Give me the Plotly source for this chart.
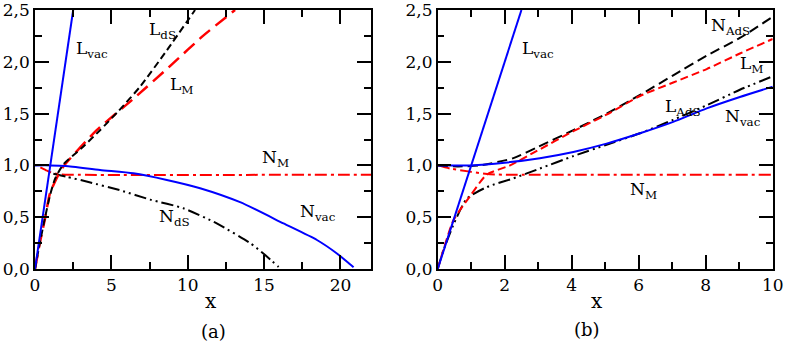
import plotly.graph_objects as go
from plotly.subplots import make_subplots

# ---- panel (a) ----
a_lvac_x = [0, 2.5]
a_lvac_y = [0, 2.5]

a_nvac_x = [0, 1.0, 2.0, 4.26, 6.44, 8.63, 10.81, 13.43, 16.27, 18.46, 19.77, 20.43, 20.86]
a_nvac_y = [1.0, 1.0, 0.995, 0.956, 0.924, 0.86, 0.78, 0.645, 0.44, 0.28, 0.15, 0.07, 0.016]

a_lds_x = [0, 0.3, 0.66, 1.0, 1.31, 1.86, 3.0, 4.26, 5.5, 6.88, 8.63, 10.48]
a_lds_y = [0, 0.24, 0.5, 0.72, 0.87, 1.01, 1.16, 1.34, 1.53, 1.76, 2.11, 2.5]

a_nds_x = [1.2, 2.08, 3.5, 5.57, 7.54, 9.72, 11.9, 14.09, 15.07, 15.95]
a_nds_y = [0.92, 0.89, 0.84, 0.76, 0.67, 0.586, 0.44, 0.25, 0.135, 0.02]

a_lm_x = [0, 0.3, 0.66, 0.98, 1.5, 1.86, 4.04, 6.5, 9.0, 11.0, 13.1]
a_lm_y = [0, 0.24, 0.49, 0.73, 0.9, 0.99, 1.34, 1.65, 1.98, 2.25, 2.5]

a_nm_x = [0.35, 0.7, 1.0, 1.3, 1.7, 2.2, 22]
a_nm_y = [0.98, 0.955, 0.935, 0.922, 0.914, 0.91, 0.91]

# ---- panel (b) ----
b_lvac_x = [0, 2.5]
b_lvac_y = [0, 2.5]

b_nvac_x = [0, 1.0, 2.0, 3.05, 4.05, 5.04, 6.04, 7.03, 8.03, 9.02, 10]
b_nvac_y = [1.0, 1.0, 1.026, 1.07, 1.13, 1.21, 1.31, 1.42, 1.55, 1.66, 1.76]

b_nads_x = [0, 0.6, 1.26, 2.26, 3.0, 4.05, 5.04, 6.04, 7.03, 8.03, 9.02, 10]
b_nads_y = [1.0, 0.99, 1.0, 1.07, 1.18, 1.34, 1.5, 1.68, 1.87, 2.06, 2.23, 2.435]

b_lm_x = [0, 0.47, 0.96, 1.46, 2.16, 2.96, 4.05, 5.04, 6.04, 7.03, 8.03, 9.02, 10]
b_lm_y = [0, 0.47, 0.7, 0.91, 1.0, 1.14, 1.33, 1.49, 1.67, 1.8, 1.93, 2.08, 2.22]

b_lads_x = [0, 0.17, 0.5, 0.87, 1.46, 2.26, 3.05, 4.05, 5.04, 6.04, 7.03, 8.03, 9.02, 10]
b_lads_y = [0, 0.18, 0.45, 0.68, 0.79, 0.875, 0.97, 1.09, 1.2, 1.31, 1.44, 1.58, 1.73, 1.86]

b_nm_x = [0, 0.37, 0.96, 1.56, 2.2, 10]
b_nm_y = [1.0, 0.97, 0.94, 0.914, 0.91, 0.91]

y_ticks = [0, 0.5, 1.0, 1.5, 2.0, 2.5]
a_xticks = [0, 5, 10, 15, 20]
b_xticks = [0, 2, 4, 6, 8, 10]

FONT = "DejaVu Serif"
BLUE = "#0000ff"
RED = "#ff0000"
BLACK = "#000000"

fig = make_subplots(rows=1, cols=2)

def add(x, y, color, dash, col, width=2):
    fig.add_trace(go.Scatter(x=x, y=y, mode="lines",
                             line=dict(color=color, dash=dash, width=width,
                                       shape="spline", smoothing=0.6),
                             showlegend=False, hoverinfo="skip"), row=1, col=col)

# (a)
add(a_nm_x, a_nm_y, RED, "12px,4px,3px,4px", 1)
add(a_nds_x, a_nds_y, BLACK, "12px,4px,2px,4px,2px,4px", 1)
add(a_lm_x, a_lm_y, RED, "14px,7px", 1, 2.5)
add(a_lds_x, a_lds_y, BLACK, "7px,4px", 1)
add(a_nvac_x, a_nvac_y, BLUE, "solid", 1)
add(a_lvac_x, a_lvac_y, BLUE, "solid", 1)

# (b)
add(b_nm_x, b_nm_y, RED, "12px,4px,3px,4px", 2)
add(b_lads_x, b_lads_y, BLACK, "12px,4px,2px,4px,2px,4px", 2)
add(b_nads_x, b_nads_y, BLACK, "10px,5px", 2)
add(b_lm_x, b_lm_y, RED, "8px,4px", 2)
add(b_nvac_x, b_nvac_y, BLUE, "solid", 2)
add(b_lvac_x, b_lvac_y, BLUE, "solid", 2)

W, H = 785, 343

def fx(px):
    return px / W

def fy(py):
    return (H - py) / H

y_dom = [fy(269), fy(10)]

axis_common = dict(
    showgrid=False, zeroline=False, showline=True, linecolor="black", linewidth=1.5,
    mirror="ticks", ticks="inside", ticklen=14, tickwidth=1.5, tickcolor="black",
    tickfont=dict(family=FONT, size=17, color="black"),
    ticklabeloverflow="allow", automargin=False,
)
minor_common = dict(ticks="inside", ticklen=7, tickwidth=1.5, tickcolor="black")

fig.update_xaxes(axis_common)
fig.update_yaxes(axis_common)

fig.update_layout(
    xaxis=dict(domain=[fx(35), fx(371)], range=[0, 22], tickvals=a_xticks,
               minor=dict(dtick=2.5, **minor_common)),
    xaxis2=dict(domain=[fx(437.7), fx(772.7)], range=[0, 10], tickvals=b_xticks,
                minor=dict(dtick=1, **minor_common)),
    yaxis=dict(domain=y_dom, range=[0, 2.5], tickvals=y_ticks, tickformat=".1f",
               minor=dict(dtick=0.25, **minor_common)),
    yaxis2=dict(domain=y_dom, range=[0, 2.5], tickvals=y_ticks, tickformat=".1f",
                minor=dict(dtick=0.25, **minor_common)),
    separators=",.",
    width=W, height=H,
    margin=dict(l=0, r=0, t=0, b=0),
    plot_bgcolor="white", paper_bgcolor="white",
    font=dict(family=FONT, size=17, color="black"),
)

labels_a = [
    ("L<sub>vac</sub>", 2.56, 2.12),
    ("L<sub>dS</sub>", 7.35, 2.3),
    ("L<sub>M</sub>", 8.7, 1.77),
    ("N<sub>M</sub>", 14.75, 1.07),
    ("N<sub>vac</sub>", 17.2, 0.55),
    ("N<sub>dS</sub>", 8.0, 0.5),
]
labels_b = [
    ("L<sub>vac</sub>", 2.46, 2.12),
    ("N<sub>AdS</sub>", 8.1, 2.34),
    ("L<sub>M</sub>", 8.97, 1.97),
    ("L<sub>AdS</sub>", 6.73, 1.56),
    ("N<sub>vac</sub>", 8.52, 1.46),
    ("N<sub>M</sub>", 5.68, 0.76),
]
for txt, x, y in labels_a:
    fig.add_annotation(text=txt, x=x, y=y, xref="x", yref="y", showarrow=False,
                       xanchor="left", yanchor="middle",
                       font=dict(family=FONT, size=17, color="black"))
for txt, x, y in labels_b:
    fig.add_annotation(text=txt, x=x, y=y, xref="x2", yref="y2", showarrow=False,
                       xanchor="left", yanchor="middle",
                       font=dict(family=FONT, size=17, color="black"))

# axis titles and panel captions (positions in reference pixels)
for txt, px, py, size in [("x", 203, 301, 20), ("x", 605, 301, 20),
                          ("(a)", 199, 331, 18), ("(b)", 602, 329, 18)]:
    fig.add_annotation(text=txt, x=fx(px), y=fy(py), xref="paper", yref="paper",
                       showarrow=False, yanchor="middle",
                       font=dict(family=FONT, size=size, color="black"))

# drop the default 8px page margin so the figure sits at the window corner
fig.write_html("out.html", config={"displayModeBar": False},
               post_script="document.body.style.margin='0';")
